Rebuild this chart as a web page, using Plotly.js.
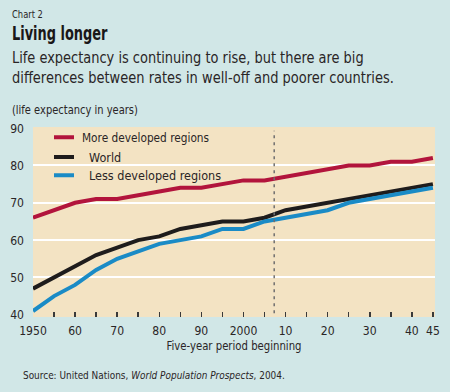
<!DOCTYPE html>
<html>
<head>
<meta charset="utf-8">
<script src="https://cdn.plot.ly/plotly-3.0.1.min.js"></script>
<style>
html,body{margin:0;padding:0;background:#d1e7e7;}
#chart{width:450px;height:392px;}
</style>
</head>
<body>
<div id="chart"></div>
<script>
// ---- data ----
var years = [1950,1955,1960,1965,1970,1975,1980,1985,1990,1995,2000,2005,2010,2015,2020,2025,2030,2035,2040,2045];
var moreDeveloped = [66,68,70,71,71,72,73,74,74,75,76,76,77,78,79,80,80,81,81,82];
var world         = [47,50,53,56,58,60,61,63,64,65,65,66,68,69,70,71,72,73,74,75];
var lessDeveloped = [41,45,48,52,55,57,59,60,61,63,63,65,66,67,68,70,71,72,73,74];
var seriesNames = ["More developed regions","World","Less developed regions"];
var xTickVals  = [1950,1960,1970,1980,1990,2000,2010,2020,2030,2040,2045];
var xTickText  = ["1950","60","70","80","90","2000","10","20","30","40","45"];
var yTickVals  = [40,50,60,70,80,90];
var yGridVals  = [50,60,70,80];
var projectionStart = 2007.3;

var FONT = '"DejaVu Sans Condensed","Liberation Sans Narrow","DejaVu Sans",sans-serif';
var TXT = '#2a2526';

var traces = [
  {x: years, y: moreDeveloped, name: seriesNames[0], mode:'lines', line:{color:'#b2143c', width:4}, legend:'legend'},
  {x: years, y: world,         name: seriesNames[1], mode:'lines', line:{color:'#1e1c1c', width:4}, legend:'legend2'},
  {x: years, y: lessDeveloped, name: seriesNames[2], mode:'lines', line:{color:'#1a8bc6', width:4}, legend:'legend3'}
];

var W = 450, H = 392, L = 33, R = 15, T = 127, B = 75;
function px(x){ return (x - L) / (W - L - R); }
function py(y){ return (H - B - y) / (H - T - B); }

function legendAt(yc){
  return {x: px(49), y: py(yc), xanchor:'left', yanchor:'middle', bgcolor:'rgba(0,0,0,0)',
          borderwidth:0, font:{family:FONT, size:12.5, color:TXT}};
}

var layout = {
  width: W, height: H,
  margin: {l:L, r:R, t:T, b:B, pad:0},
  paper_bgcolor: '#d1e7e7',
  plot_bgcolor: '#f3e3c3',
  font: {family: FONT, color: TXT, size: 13},
  showlegend: true,
  legend:  legendAt(137.7),
  legend2: legendAt(157.3),
  legend3: legendAt(175.7),
  xaxis: {
    range: [1950, 2045.5], showgrid:false, zeroline:false, showline:false,
    tickmode:'array', tickvals: xTickVals, ticktext: xTickText,
    ticks:'inside', ticklen:5, tickwidth:1.5, tickcolor:'#3a3a3a', ticklabelstandoff:4,
    tickfont:{family:FONT, size:13, color:TXT},
    minor: {tick0:1950, dtick:5, ticks:'inside', ticklen:5, tickwidth:1.5, tickcolor:'#3a3a3a', showgrid:false},
    title: {text:'Five-year period beginning', font:{family:FONT, size:12.5, color:TXT}, standoff:3},
    fixedrange:true
  },
  yaxis: {
    range: [39.4, 90.3], showgrid:false, zeroline:false, showline:false,
    tickmode:'array', tickvals: yTickVals, ticks:'', ticklabelstandoff:8,
    tickfont:{family:FONT, size:13, color:TXT},
    minor: {tickmode:'array', tickvals: yGridVals, showgrid:true, gridcolor:'#ffffff', gridwidth:2, ticks:''},
    fixedrange:true
  },
  shapes: [
    {type:'line', xref:'x', yref:'paper', x0: projectionStart, x1: projectionStart, y0:0.02, y1:0.98,
     line:{color:'#6f6f6f', width:1.5, dash:'3px,4px'}}
  ],
  annotations: [
    {text:'Chart 2', xref:'paper', yref:'paper', x:px(10), y:py(14.8), xanchor:'left', yanchor:'middle', align:'left', showarrow:false, font:{family:FONT, size:11, color:TXT}},
    {text:'<b>Living longer</b>', xref:'paper', yref:'paper', x:px(10), y:py(33.5), xanchor:'left', yanchor:'middle', align:'left', showarrow:false, font:{family:FONT, size:19, color:'#1a1718'}},
    {text:'Life expectancy is continuing to rise, but there are big', xref:'paper', yref:'paper', x:px(10), y:py(57.8), xanchor:'left', yanchor:'middle', align:'left', showarrow:false, font:{family:FONT, size:16, color:TXT}},
    {text:'differences between rates in well-off and poorer countries.', xref:'paper', yref:'paper', x:px(10), y:py(77.8), xanchor:'left', yanchor:'middle', align:'left', showarrow:false, font:{family:FONT, size:16, color:TXT}},
    {text:'(life expectancy in years)', xref:'paper', yref:'paper', x:px(10), y:py(110), xanchor:'left', yanchor:'middle', align:'left', showarrow:false, font:{family:FONT, size:12, color:TXT}},
    {text:'Source: United Nations, <i>World Population Prospects</i>, 2004.', xref:'paper', yref:'paper', x:px(21), y:py(375), xanchor:'left', yanchor:'middle', align:'left', showarrow:false, font:{family:FONT, size:11, color:TXT}}
  ]
};

// horizontal condensing of text to mimic the narrow typeface of the original
function condense(nodes, s){
  Array.prototype.forEach.call(nodes, function(t){
    var x = parseFloat(t.getAttribute('x')) || 0;
    var tr = t.getAttribute('transform') || '';
    t.setAttribute('transform', tr + ' translate(' + x + ',0) scale(' + s + ',1) translate(' + (-x) + ',0)');
  });
}

// target widths (px) of the annotation texts as measured in the reference
var annTargets = [
  ['Chart 2', 31],
  ['Living longer', 96],
  ['Life expectancy', 352],
  ['differences', 382],
  ['(life expectancy', 126],
  ['Source:', 262]
];

Plotly.newPlot('chart', traces, layout, {displayModeBar:false, staticPlot:true}).then(function(gd){
  Array.prototype.forEach.call(gd.querySelectorAll('.legendlines path'), function(p){
    p.setAttribute('d', 'M5,0h20');
  });
  Array.prototype.forEach.call(gd.querySelectorAll('text.legendtext'), function(t){
    t.setAttribute('x', 33);
  });
  condense(gd.querySelectorAll('text.legendtext'), 0.94);
  condense(gd.querySelectorAll('.xtick text'), 0.93);
  condense(gd.querySelectorAll('.ytick text'), 0.93);
  condense(gd.querySelectorAll('.g-xtitle text'), 0.9);
  Array.prototype.forEach.call(gd.querySelectorAll('text.annotation-text'), function(t){
    var txt = t.textContent;
    var target = null;
    annTargets.forEach(function(a){ if (txt.indexOf(a[0]) === 0) target = a[1]; });
    if (target) {
      var w = t.getBBox().width;
      if (w > 0) condense([t], Math.min(1, target / w));
    }
  });
});
</script>
</body>
</html>
